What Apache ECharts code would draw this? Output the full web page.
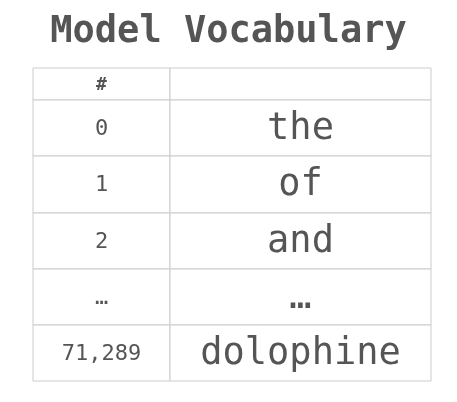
<!DOCTYPE html>
<html><head><meta charset="utf-8">
<script src="https://cdn.jsdelivr.net/npm/echarts@6/dist/echarts.min.js"></script>
<style>html,body{margin:0;padding:0;background:#fff}#c{width:457px;height:402px}</style>
</head><body><div id="c"></div>
<script>
const title = "Model Vocabulary";
const headers = ["#", ""];
const ids = ["0", "1", "2", "…", "71,289"];
const words = ["the", "of", "and", "…", "dolophine"];

const colEdges = [0, 137, 398];
const rowEdges = [0, 32, 88, 145, 201, 257, 313];

const data = [];
headers.forEach((h, j) => data.push([j, 0, h]));
ids.forEach((v, i) => { data.push([0, i + 1, v]); data.push([1, i + 1, words[i]]); });

const chart = echarts.init(document.getElementById('c'));
chart.setOption({
  animation: false,
  title: { text: title, left: 'center', top: 9,
    textStyle: { fontFamily: 'DejaVu Sans Mono', fontSize: 37, fontWeight: 'bold', color: '#555' } },
  grid: { left: 33, right: 26, top: 68, bottom: 21 },
  xAxis: { type: 'value', min: 0, max: 398, show: false },
  yAxis: { type: 'value', min: 0, max: 313, inverse: true, show: false },
  series: [{
    type: 'custom',
    data: data,
    renderItem: function (params, api) {
      const c = api.value(0), r = api.value(1);
      const p0 = api.coord([colEdges[c], rowEdges[r]]);
      const p1 = api.coord([colEdges[c + 1], rowEdges[r + 1]]);
      const txt = data[params.dataIndex][2];
      const fs = r === 0 ? 18 : (c === 0 ? 22 : 37);
      return {
        type: 'group',
        children: [
          { type: 'rect', shape: { x: p0[0], y: p0[1], width: p1[0] - p0[0], height: p1[1] - p0[1] },
            style: { fill: '#fff', stroke: '#ccc', lineWidth: 1 } },
          { type: 'text', style: { text: txt, x: (p0[0] + p1[0]) / 2, y: (p0[1] + p1[1]) / 2 + 1,
            align: 'center', verticalAlign: 'middle', fill: '#555',
            font: (r === 0 ? 'bold ' : '') + fs + 'px "DejaVu Sans Mono"' } }
        ]
      };
    }
  }]
});
</script></body></html>
